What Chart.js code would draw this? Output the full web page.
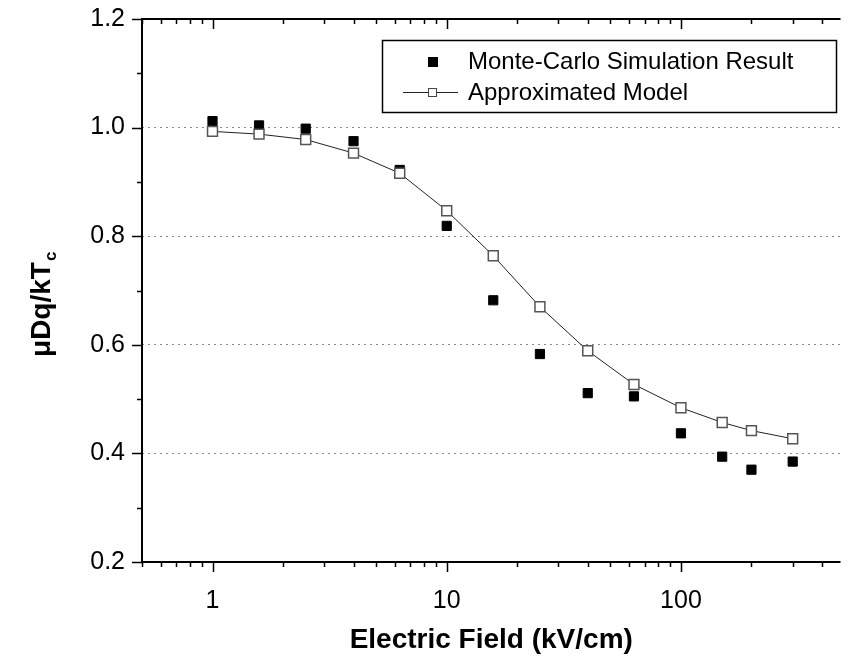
<!DOCTYPE html>
<html>
<head>
<meta charset="utf-8">
<script src="https://cdn.jsdelivr.net/npm/chart.js@4.4.1/dist/chart.umd.min.js"></script>
<style>
  html, body { margin: 0; padding: 0; background: #fff; }
  #wrap { width: 849px; height: 669px; }
</style>
</head>
<body>
<div id="wrap"><canvas id="chart"></canvas></div>
<script>
// electric field (kV/cm)
const fieldValues = [1, 1.58, 2.5, 4, 6.3, 10, 15.8, 25, 40, 63, 100, 150, 200, 300];
// Monte-Carlo simulation result
const mcValues = [1.012, 1.004, 0.998, 0.975, 0.922, 0.819, 0.682, 0.583, 0.511, 0.505, 0.437, 0.394, 0.370, 0.385];
// approximated model
const modelValues = [0.993, 0.988, 0.978, 0.953, 0.916, 0.847, 0.764, 0.670, 0.589, 0.527, 0.484, 0.457, 0.442, 0.427];

const yMajorTicks = [0.2, 0.4, 0.6, 0.8, 1.0, 1.2];
const yMinorTicks = [0.3, 0.5, 0.7, 0.9, 1.1];
const xMajorTicks = [1, 10, 100];
const xMinorTicks = [0.5, 0.6, 0.7, 0.8, 0.9, 2, 3, 4, 5, 6, 7, 8, 9, 20, 30, 40, 50, 60, 70, 80, 90, 200, 300, 400];

const seriesNames = ['Monte-Carlo Simulation Result', 'Approximated Model'];

const FONT = '"Liberation Sans", Arial, sans-serif';

function toPoints(xs, ys) {
    return xs.map((x, i) => ({ x: x, y: ys[i] }));
}

// axes, tick marks, legend and y title drawn over the plot
const decorPlugin = {
    id: 'decor',
    afterDraw(chart) {
        const ctx = chart.ctx;
        const area = chart.chartArea;
        const xs = chart.scales.x;
        const ys = chart.scales.y;

        ctx.save();
        ctx.strokeStyle = '#000';
        ctx.lineCap = 'butt';

        // axis lines
        ctx.lineWidth = 2;
        ctx.beginPath();
        ctx.moveTo(area.left, area.top);
        ctx.lineTo(area.left, area.bottom);
        ctx.moveTo(area.left - 1, area.bottom);
        ctx.lineTo(area.right, area.bottom);
        ctx.moveTo(area.left - 1, area.top);
        ctx.lineTo(area.right, area.top);
        ctx.stroke();

        ctx.lineWidth = 1.5;
        ctx.beginPath();
        // left ticks, outward
        yMajorTicks.forEach(v => {
            const p = Math.round(ys.getPixelForValue(v)) + 0.5;
            ctx.moveTo(area.left, p);
            ctx.lineTo(area.left - 10, p);
        });
        yMinorTicks.forEach(v => {
            const p = Math.round(ys.getPixelForValue(v)) + 0.5;
            ctx.moveTo(area.left, p);
            ctx.lineTo(area.left - 5, p);
        });
        // bottom ticks outward, top ticks inward
        xMajorTicks.forEach(v => {
            const p = Math.round(xs.getPixelForValue(v)) + 0.5;
            ctx.moveTo(p, area.bottom);
            ctx.lineTo(p, area.bottom + 10);
            ctx.moveTo(p, area.top);
            ctx.lineTo(p, area.top + 10);
        });
        xMinorTicks.forEach(v => {
            const p = Math.round(xs.getPixelForValue(v)) + 0.5;
            ctx.moveTo(p, area.bottom);
            ctx.lineTo(p, area.bottom + 5);
            ctx.moveTo(p, area.top);
            ctx.lineTo(p, area.top + 5);
        });
        ctx.stroke();

        // legend
        ctx.lineWidth = 1.5;
        ctx.strokeRect(382.5, 40.5, 454, 72);

        ctx.fillStyle = '#000';
        ctx.fillRect(428, 57, 10, 10);

        ctx.lineWidth = 1;
        ctx.strokeStyle = '#222';
        ctx.beginPath();
        ctx.moveTo(403, 92.5);
        ctx.lineTo(458, 92.5);
        ctx.stroke();
        ctx.fillStyle = '#fff';
        ctx.fillRect(428, 88, 9, 9);
        ctx.strokeStyle = '#444';
        ctx.strokeRect(428.5, 88.5, 8, 8);

        ctx.fillStyle = '#000';
        ctx.font = '24px ' + FONT;
        ctx.textAlign = 'left';
        ctx.textBaseline = 'middle';
        ctx.fillText(seriesNames[0], 468, 62);
        ctx.fillText(seriesNames[1], 468, 93);

        // y title with subscript
        ctx.translate(50, 357);
        ctx.rotate(-Math.PI / 2);
        ctx.textBaseline = 'alphabetic';
        ctx.font = 'bold 28px ' + FONT;
        const main = '\u03bcDq/kT';
        ctx.fillText(main, 0, 0);
        const w = ctx.measureText(main).width;
        ctx.font = 'bold 17px ' + FONT;
        ctx.fillText('c', w + 1, 6);

        ctx.restore();
    }
};

new Chart(document.getElementById('chart').getContext('2d'), {
    type: 'scatter',
    data: {
        datasets: [{
            label: seriesNames[0],
            data: toPoints(fieldValues, mcValues),
            showLine: false,
            pointStyle: 'rect',
            pointRadius: 6.5,
            pointHoverRadius: 6.5,
            backgroundColor: '#000',
            borderColor: '#000',
            pointBorderWidth: 1,
            order: 2
        }, {
            label: seriesNames[1],
            data: toPoints(fieldValues, modelValues),
            showLine: true,
            borderColor: '#222',
            borderWidth: 1,
            pointStyle: 'rect',
            pointRadius: 7,
            pointHoverRadius: 7,
            pointBackgroundColor: '#fff',
            pointBorderColor: '#555',
            pointBorderWidth: 1.5,
            order: 1
        }]
    },
    options: {
        responsive: true,
        maintainAspectRatio: false,
        animation: false,
        layout: {
            padding: { left: 0, right: 0, top: 19, bottom: 0 }
        },
        plugins: {
            legend: { display: false },
            tooltip: { enabled: false }
        },
        scales: {
            x: {
                type: 'logarithmic',
                min: 0.5,
                max: 480,
                afterBuildTicks(scale) {
                    scale.ticks = xMajorTicks.map(v => ({ value: v }));
                },
                afterFit(scale) {
                    scale.height = 107;
                    scale.paddingLeft = 0;
                    scale.paddingRight = 0;
                },
                grid: { display: false, drawTicks: false },
                border: { display: false },
                ticks: {
                    padding: 24,
                    color: '#000',
                    font: { family: FONT, size: 25 },
                    maxRotation: 0,
                    autoSkip: false,
                    callback: v => String(v)
                },
                title: {
                    display: true,
                    text: 'Electric Field (kV/cm)',
                    color: '#000',
                    font: { family: FONT, size: 28, weight: 'bold' },
                    padding: { top: 0, bottom: 12 }
                }
            },
            y: {
                min: 0.2,
                max: 1.2,
                afterBuildTicks(scale) {
                    scale.ticks = yMajorTicks.map(v => ({ value: v }));
                },
                afterFit(scale) {
                    scale.width = 142;
                    scale.paddingTop = 0;
                    scale.paddingBottom = 0;
                },
                grid: {
                    drawTicks: false,
                    lineWidth: 1,
                    color: c => (c.tick && c.tick.value > 0.25 && c.tick.value < 1.15)
                        ? '#8a8a8a' : 'rgba(0,0,0,0)'
                },
                border: { display: false, dash: [2, 4] },
                ticks: {
                    padding: 17,
                    color: '#000',
                    font: { family: FONT, size: 25 },
                    callback: v => Number(v).toFixed(1)
                }
            }
        }
    },
    plugins: [decorPlugin]
});
</script>
</body>
</html>
